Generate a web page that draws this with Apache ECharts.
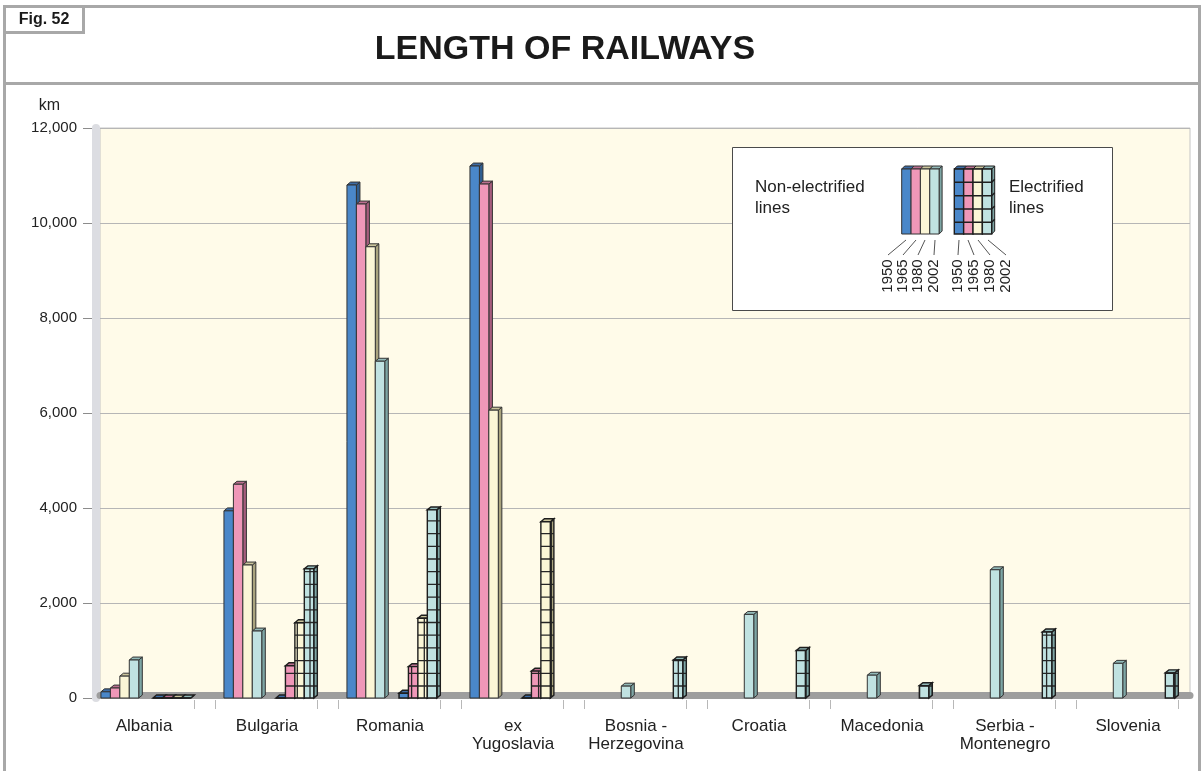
<!DOCTYPE html>
<html>
<head>
<meta charset="utf-8">
<title>Length of railways</title>
<script src="https://cdn.jsdelivr.net/npm/echarts@6/dist/echarts.min.js"></script>
<style>
  html, body { margin: 0; padding: 0; background: #fff; }
  #main { width: 1203px; height: 771px; }
</style>
</head>
<body>
<div id="main"></div>
<script>
// data, km
var countries = ['Albania', 'Bulgaria', 'Romania', 'ex\nYugoslavia', 'Bosnia -\nHerzegovina',
                 'Croatia', 'Macedonia', 'Serbia -\nMontenegro', 'Slovenia'];
var years = ['1950', '1965', '1980', '2002'];

// non-electrified lines
var plain1950 = [130, 3940, 10800, 11200, null, null, null, null, null];
var plain1965 = [210, 4500, 10400, 10820, null, null, null, null, null];
var plain1980 = [460, 2800, 9500, 6060, null, null, null, null, null];
var plain2002 = [800, 1410, 7090, null, 250, 1760, 480, 2700, 730];

// electrified lines
var elec1950 = [0, 0, 100, 0, null, null, null, null, null];
var elec1965 = [0, 680, 660, 565, null, null, null, null, null];
var elec1980 = [0, 1585, 1680, 3710, null, null, null, null, null];
var elec2002 = [0, 2720, 3960, null, 800, 1000, 260, 1390, 530];

var plainSets = [plain1950, plain1965, plain1980, plain2002];
var elecSets = [elec1950, elec1965, elec1980, elec2002];

// colours: front, side, top
var fronts = ['#4a87c9', '#ef97b8', '#fbf6d6', '#c0e2e1'];
var sides = ['#2f5d8f', '#a65d7d', '#aaa47e', '#7ea6a5'];
var tops = ['#3d6ca5', '#b96f8f', '#cbc59c', '#92b9b8'];

// grid texture of the electrified bars (anchored to the page)
function gridPattern(fill) {
  var c = document.createElement('canvas');
  c.width = 1203; c.height = 771;
  var g = c.getContext('2d');
  g.fillStyle = fill;
  g.fillRect(0, 0, 1203, 771);
  g.strokeStyle = '#262626';
  g.lineWidth = 1.3;
  g.beginPath();
  for (var y = 686; y > 0; y -= 12.7) { g.moveTo(0, y); g.lineTo(1203, y); }
  for (var x = 297.3 % 12.7; x < 1203; x += 12.7) { g.moveTo(x, 0); g.lineTo(x, 771); }
  g.stroke();
  return { image: c, repeat: 'repeat' };
}
var elecFront = fronts.map(gridPattern);
var elecSide = sides.map(gridPattern);

// pseudo 3d bar
function makeRender(slot, electrified) {
  return function (params, api) {
    var v = api.value(1);
    if (v == null || isNaN(v)) return;
    var cat = api.value(0);
    var base = api.coord([cat, 0]);
    var top = api.coord([cat, v]);
    var band = api.size([1, 0])[0];
    var w = band * 0.0768;
    var dx = band * 0.029, dy = band * 0.024;
    var start = electrified ? 0.073 : -0.35;
    var x0 = base[0] + band * start + slot * w;
    var y0 = top[1], y1 = base[1];
    var stroke = electrified ? '#1e1e1e' : '#333';
    var lw = electrified ? 1.4 : 1;
    return {
      type: 'group',
      children: [
        {
          type: 'polygon',
          shape: { points: [[x0 + w, y0], [x0 + w + dx, y0 - dy], [x0 + w + dx, y1 - dy], [x0 + w, y1]] },
          style: { fill: electrified ? elecSide[slot] : sides[slot], stroke: stroke, lineWidth: lw }
        },
        {
          type: 'polygon',
          shape: { points: [[x0, y0], [x0 + dx, y0 - dy], [x0 + w + dx, y0 - dy], [x0 + w, y0]] },
          style: { fill: tops[slot], stroke: stroke, lineWidth: lw }
        },
        {
          type: 'rect',
          shape: { x: x0, y: y0, width: w, height: y1 - y0 },
          style: { fill: electrified ? elecFront[slot] : fronts[slot], stroke: stroke, lineWidth: lw }
        }
      ]
    };
  };
}

function toItems(arr) {
  return arr.map(function (v, i) { return [i, v]; });
}

var series = [];
plainSets.forEach(function (arr, k) {
  series.push({
    name: 'Non-electrified ' + years[k], type: 'custom', xAxisIndex: 0, yAxisIndex: 0,
    renderItem: makeRender(k, false), encode: { x: 0, y: 1 }, data: toItems(arr)
  });
});
elecSets.forEach(function (arr, k) {
  series.push({
    name: 'Electrified ' + years[k], type: 'custom', xAxisIndex: 0, yAxisIndex: 0,
    renderItem: makeRender(k, true), encode: { x: 0, y: 1 }, data: toItems(arr)
  });
});

// legend graphic (two blocks of mini bars)
var legend = [
  { type: 'rect', z: 5, shape: { x: 732.5, y: 147.5, width: 380, height: 163 },
    style: { fill: '#fff', stroke: '#4a4a4a', lineWidth: 1 } },
  { type: 'text', z: 6, style: { x: 755, y: 198, text: 'Non-electrified\nlines', font: '17px "Liberation Sans", Arial',
    fill: '#222', lineHeight: 21, verticalAlign: 'middle' } },
  { type: 'text', z: 6, style: { x: 1009, y: 198, text: 'Electrified\nlines', font: '17px "Liberation Sans", Arial',
    fill: '#222', lineHeight: 21, verticalAlign: 'middle' } }
];
[901.7, 954.3].forEach(function (bx, b) {
  for (var i = 0; i < 4; i++) {
    var x = bx + i * 9.35, w = 9.35;
    var st = b ? '#1e1e1e' : '#333';
    if (i === 3) {
      legend.push({ type: 'polygon', z: 6, shape: { points: [[x + w, 169], [x + w + 3, 166], [x + w + 3, 231], [x + w, 234]] },
        style: { fill: sides[i], stroke: st, lineWidth: 1 } });
    }
    legend.push({ type: 'polygon', z: 6, shape: { points: [[x, 169], [x + 3, 166], [x + w + 3, 166], [x + w, 169]] },
      style: { fill: tops[i], stroke: st, lineWidth: 1 } });
    legend.push({ type: 'rect', z: 6, shape: { x: x, y: 169, width: w, height: 65 },
      style: { fill: fronts[i], stroke: st, lineWidth: b ? 1.4 : 1 } });
  }
});
[182.3, 195.7, 209, 222.3].forEach(function (y) {
  legend.push({ type: 'polyline', z: 7, shape: { points: [[954.3, y], [991.7, y], [994.7, y - 3]] },
    style: { stroke: '#1e1e1e', lineWidth: 1.4, fill: null } });
});
// leader lines: from under each mini bar to its rotated year label
var leaders = [[906, 888], [916, 903], [925, 918], [935, 934], [959, 958], [968, 974], [978, 990], [988, 1006]];
leaders.forEach(function (p, i) {
  legend.push({ type: 'line', z: 6, shape: { x1: p[0], y1: 240, x2: p[1], y2: 255 },
    style: { stroke: '#555', lineWidth: 1 } });
  legend.push({ type: 'text', z: 6, x: p[1], y: 276, rotation: Math.PI / 2,
    style: { text: years[i % 4], font: '15px "Liberation Sans", Arial', fill: '#222', align: 'center', verticalAlign: 'middle' } });
});

var frame = [
  { type: 'rect', z: 4, shape: { x: 4.5, y: 6.5, width: 1195, height: 800 },
    style: { fill: null, stroke: '#a8a8a8', lineWidth: 3 } },
  { type: 'line', z: 4, shape: { x1: 4.5, y1: 83.5, x2: 1199.5, y2: 83.5 },
    style: { stroke: '#a8a8a8', lineWidth: 3 } },
  { type: 'rect', z: 5, shape: { x: 4.5, y: 6.5, width: 79, height: 26 },
    style: { fill: '#fff', stroke: '#a8a8a8', lineWidth: 3 } },
  { type: 'text', z: 6, style: { x: 44, y: 20, text: 'Fig. 52', font: 'bold 16px "Liberation Sans", Arial',
    fill: '#1a1a1a', align: 'center', verticalAlign: 'middle' } },
  { type: 'text', z: 6, style: { x: 565, y: 50, text: 'LENGTH OF RAILWAYS', font: 'bold 34px "Liberation Sans", Arial',
    fill: '#1a1a1a', align: 'center', verticalAlign: 'middle' } }
];

var myChart = echarts.init(document.getElementById('main'));

var option = {
  animation: false,
  backgroundColor: '#fff',
  textStyle: { fontFamily: '"Liberation Sans", Arial, sans-serif' },
  grid: [
    // bars
    { left: 82.5, width: 1107, top: 128, bottom: 73, outerBoundsMode: 'none' },
    // back wall
    { left: 100, width: 1090, top: 128, bottom: 73, show: true, backgroundColor: '#fffbe9',
      borderColor: '#c4c4c4', borderWidth: 1, outerBoundsMode: 'none' },
    // tick pairs between countries
    { left: 194, width: 984, top: 128, bottom: 71, outerBoundsMode: 'none' },
    { left: 215, width: 861, top: 128, bottom: 71, outerBoundsMode: 'none' }
  ],
  xAxis: [
    {
      gridIndex: 0, type: 'category', data: countries,
      axisLine: { show: false }, axisTick: { show: false },
      axisLabel: { color: '#222', fontSize: 17, lineHeight: 18, margin: 19, interval: 0 }
    },
    {
      gridIndex: 1, type: 'category', data: countries, offset: -3,
      axisLine: { show: true, lineStyle: { color: '#9e9e9e', width: 7 } },
      axisTick: { show: false }, axisLabel: { show: false }
    },
    {
      gridIndex: 2, type: 'category', data: ['', '', '', '', '', '', '', ''],
      axisLine: { show: false }, axisLabel: { show: false },
      axisTick: { show: true, length: 9, lineStyle: { color: '#b8b8b8' } }
    },
    {
      gridIndex: 3, type: 'category', data: ['', '', '', '', '', '', ''],
      axisLine: { show: false }, axisLabel: { show: false },
      axisTick: { show: true, length: 9, lineStyle: { color: '#b8b8b8' } }
    }
  ],
  yAxis: [
    {
      gridIndex: 0, type: 'value', min: 0, max: 12000, interval: 2000, offset: -9.5,
      name: 'km', nameLocation: 'end', nameGap: 14,
      nameTextStyle: { color: '#222', fontSize: 16, align: 'right', padding: [0, 32, 0, 0] },
      axisLine: { show: false },
      axisTick: { show: true, length: 9, lineStyle: { color: '#8c8c8c' } },
      axisLabel: { color: '#222', fontSize: 15, margin: 15,
        formatter: function (v) { return v.toLocaleString('en-US'); } },
      splitLine: { show: false }
    },
    {
      gridIndex: 1, type: 'value', min: 0, max: 12000, interval: 2000, offset: 4,
      axisLine: { show: true, lineStyle: { color: '#dcdde2', width: 8 } },
      axisTick: { show: false }, axisLabel: { show: false },
      splitLine: { show: true, lineStyle: { color: '#b6b6b6', width: 1.2 } }
    },
    { gridIndex: 2, type: 'value', show: false },
    { gridIndex: 3, type: 'value', show: false }
  ],
  graphic: frame.concat(legend),
  series: series
};

myChart.setOption(option);
</script>
</body>
</html>
